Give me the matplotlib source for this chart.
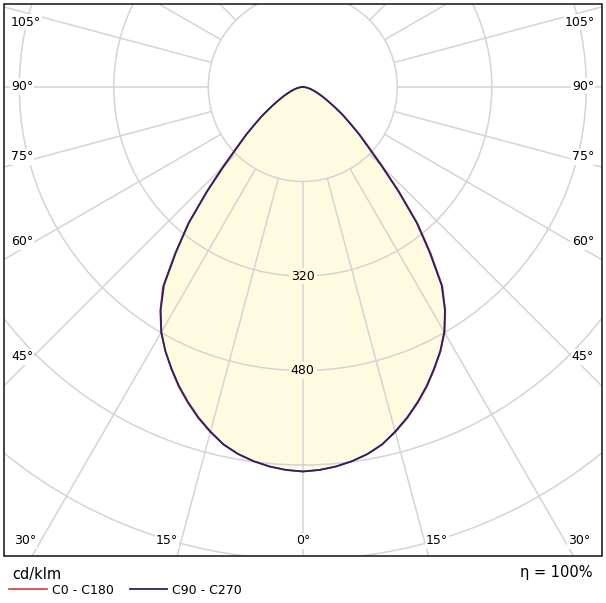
import numpy as np
import matplotlib
matplotlib.use('Agg')
import matplotlib.pyplot as plt
from matplotlib.patches import Rectangle

# luminous intensity (cd/klm) against gamma angle
gamma = [0, 2.5, 5, 7.5, 10, 12.5, 15, 17.5, 20, 22.5, 25, 27.5, 30, 32.5, 35, 37.5,
         40, 42.5, 45, 47.5, 50, 52.5, 55, 57.5, 60, 62.5, 65, 67.5, 70, 75, 80, 85, 90,
         95, 100, 120, 140, 160, 180]
c0 = [651, 649, 645, 639, 631, 620, 605, 588, 569, 549, 527, 505, 480, 449, 412, 356,
      303, 243, 192, 153, 126, 102, 84, 67, 53, 43, 35, 28, 23, 15, 9, 4, 0,
      0, 0, 0, 0, 0, 0]
c180 = [651, 649, 645, 639, 631, 620, 605, 588, 569, 549, 527, 504, 480, 449, 413, 355,
        302, 242, 193, 152, 125, 101, 83, 66, 53, 43, 35, 28, 23, 15, 9, 4, 0,
        0, 0, 0, 0, 0, 0]
c90 = [651, 649, 645, 639, 631, 620, 604, 587, 568, 548, 526, 504, 479, 448, 410, 353,
       300, 240, 188, 150, 124, 100, 82, 65, 52, 42, 34, 27, 22, 14, 8, 3, 0,
       0, 0, 0, 0, 0, 0]
c270 = c90

r_ticks = [160, 320, 480, 640, 800, 960]
r_labels = {320: '320', 480: '480'}
grid_angles = list(range(-180, 181, 15))

angle_labels = ['105°', '90°', '75°', '60°', '45°', '30°', '15°', '0°', '15°', '30°',
                '45°', '60°', '75°', '90°', '105°']
# label centres in pixels (x from left, y from top)
angle_label_pos = [(26, 22), (22, 86), (22, 157), (22, 242), (22, 357), (25, 541),
                   (167, 541), (303, 541), (437, 541), (579, 541),
                   (583, 357), (583, 242), (583, 157), (583, 86), (580, 22)]

W, H = 606, 603
fill_col = '#fffbe0'
blue = '#2c2068'
red = '#d03a3a'
grid_col = '#d4d4d4'

fig = plt.figure(figsize=(W / 100, H / 100), dpi=100)

# polar axes centred at the luminaire point, much bigger than the frame
cx, cy = 302.8, 87
px_per_cd = 94.5 / 160
rmax = 1000
rad = rmax * px_per_cd
ax = fig.add_axes([(cx - rad) / W, (H - cy - rad) / H, 2 * rad / W, 2 * rad / H],
                  projection='polar')
ax.set_theta_zero_location('S')
ax.set_ylim(0, rmax)
ax.set_xticks([])
ax.set_yticks(r_ticks)
ax.set_yticklabels([])
ax.spines['polar'].set_visible(False)
ax.set_facecolor('white')
ax.set_axisbelow(False)
ax.yaxis.grid(True, color=grid_col, lw=1.1)

# frame rectangle used for clipping
x0, x1, y0, y1 = 4, 601.5, 4, 556
clip = Rectangle((x0 / W, 1 - y1 / H), (x1 - x0) / W, (y1 - y0) / H,
                 transform=fig.transFigure)
ax.yaxis.get_major_ticks()
ax.yaxis.set_clip_path(clip)

rl = ax.vlines(np.deg2rad(grid_angles), 160, rmax, color=grid_col, lw=1.1, zorder=2)
rl.set_clip_path(clip)

g = np.deg2rad(gamma)
th = np.concatenate([-g[::-1], g[1:]])
r_a = np.concatenate([c180[::-1], c0[1:]])
r_b = np.concatenate([c270[::-1], c90[1:]])

ax.fill(th, r_b, color=fill_col, zorder=1, lw=0)
la, = ax.plot(th, r_a, color=red, lw=1.2, zorder=3, label='C0 - C180')
lb, = ax.plot(th, r_b, color=blue, lw=1.3, zorder=4, label='C90 - C270')

for rv, txt in r_labels.items():
    ax.text(0, rv, txt, ha='center', va='center', fontsize=9, zorder=5,
            bbox=dict(boxstyle='square,pad=0.15', fc=fill_col, ec='none'))

fig.add_artist(Rectangle((x0 / W, 1 - y1 / H), (x1 - x0) / W, (y1 - y0) / H,
                         transform=fig.transFigure, fill=False, ec='#222222', lw=1.2))

for txt, (px, py) in zip(angle_labels, angle_label_pos):
    fig.text(px / W, 1 - py / H, txt, ha='center', va='center', fontsize=9,
             bbox=dict(boxstyle='square,pad=0.1', fc='white', ec='none'))

fig.text(12 / W, 1 - 574 / H, 'cd/klm', ha='left', va='center', fontsize=10.5)
fig.text(592 / W, 1 - 573 / H, 'η = 100%', ha='right', va='center', fontsize=10.5)

fig.legend(handles=[la, lb], loc='center left', bbox_to_anchor=(9 / W, 1 - 590 / H),
           ncol=2, frameon=False, fontsize=9, handlelength=3.0, handletextpad=0.4,
           columnspacing=1.3, borderpad=0, borderaxespad=0)

fig.savefig('out.png', dpi=100)
